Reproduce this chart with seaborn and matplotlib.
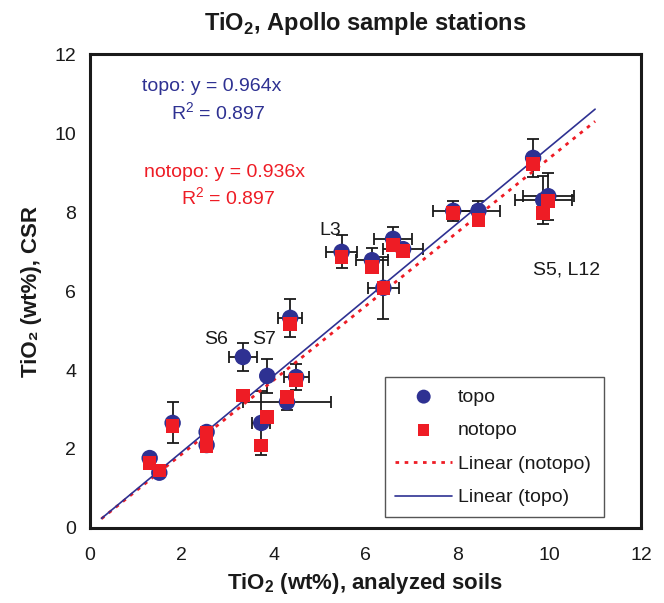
import matplotlib
matplotlib.use("Agg")
import matplotlib.pyplot as plt
import numpy as np
import pandas as pd
import seaborn as sns

# TiO2 (wt%) per Apollo station: analyzed soils vs. CSR estimates
soil_tio2 = [1.30, 1.51, 1.80, 2.54, 2.54, 3.33, 3.73, 3.86, 4.29, 4.36, 4.49,
             5.48, 6.14, 6.39, 6.60, 6.82, 7.91, 8.46, 9.65, 9.87, 9.98]
csr_topo = [1.77, 1.40, 2.66, 2.43, 2.10, 4.33, 2.66, 3.85, 3.19, 5.32, 3.82,
            6.99, 6.78, 6.08, 7.32, 7.06, 8.03, 8.03, 9.37, 8.30, 8.40]
csr_notopo = [1.64, 1.45, 2.58, 2.40, 2.07, 3.35, 2.09, 2.81, 3.31, 5.16, 3.75,
              6.86, 6.61, 6.08, 7.16, 7.01, 7.98, 7.80, 9.22, 7.97, 8.28]
soil_err = [0.0, 0.0, 0.0, 0.12, 0.12, 0.30, 0.20, 0.0, 0.95, 0.26, 0.27,
            0.33, 0.35, 0.34, 0.41, 0.43, 0.44, 0.47, 0.10, 0.62, 0.55]
csr_err = [0.0, 0.0, 0.52, 0.10, 0.10, 0.36, 0.80, 0.42, 0.20, 0.48, 0.32,
           0.42, 0.30, 0.78, 0.30, 0.10, 0.25, 0.25, 0.48, 0.60, 0.60]

# Linear fits through the origin
slope_topo = 0.964
slope_notopo = 0.936
r2_topo = 0.897
r2_notopo = 0.897
fit_range = [0.25, 11.0]

station_labels = ["L3", "S6", "S7", "S5, L12"]
label_x = [5.23, 2.75, 3.79, 10.37]
label_y = [7.54, 4.76, 4.76, 6.53]

sns.set_style("white")
plt.rcParams["font.family"] = ["Liberation Sans", "DejaVu Sans"]
plt.rcParams["mathtext.fontset"] = "custom"
plt.rcParams["mathtext.rm"] = "Liberation Sans"
plt.rcParams["mathtext.bf"] = "Liberation Sans:bold"

BLUE = "#2e3192"
RED = "#ee1c25"
INK = "#1a1a1a"

fig = plt.figure(figsize=(6.64, 6.03), dpi=100)
ax = fig.add_axes([0.1355, 0.1244, 0.8299, 0.786])

df = pd.DataFrame({"soil": soil_tio2, "topo": csr_topo, "notopo": csr_notopo})

ax.errorbar(soil_tio2, csr_topo, xerr=soil_err, yerr=csr_err, fmt="none",
            ecolor=INK, elinewidth=1.3, capsize=4, capthick=1.3, zorder=2)

fit_x = np.array(fit_range)
fits = pd.DataFrame({
    "x": np.concatenate([fit_x, fit_x]),
    "y": np.concatenate([slope_notopo * fit_x, slope_topo * fit_x]),
    "series": ["Linear (notopo)"] * 2 + ["Linear (topo)"] * 2,
})
sns.lineplot(data=fits[fits.series == "Linear (notopo)"], x="x", y="y", ax=ax,
             color=RED, linewidth=2.0, linestyle=(0, (1.3, 2.0)),
             label="Linear (notopo)", zorder=3)
sns.lineplot(data=fits[fits.series == "Linear (topo)"], x="x", y="y", ax=ax,
             color=BLUE, linewidth=1.2, label="Linear (topo)", zorder=3)

sns.scatterplot(data=df, x="soil", y="topo", ax=ax, marker="o", s=140,
                color=BLUE, edgecolor="none", label="topo", zorder=4)
sns.scatterplot(data=df, x="soil", y="notopo", ax=ax, marker="s", s=95,
                color=RED, edgecolor="none", label="notopo", zorder=5)

ax.set_xlim(0, 12)
ax.set_ylim(0, 12)
ax.set_xticks(np.arange(0, 13, 2))
ax.set_yticks(np.arange(0, 13, 2))
ax.tick_params(axis="both", direction="out", length=5, width=1.0,
               labelsize=14, color="black", labelcolor=INK, pad=5)
ax.tick_params(axis="x", pad=9)
for sp in ax.spines.values():
    sp.set_linewidth(2.2)
    sp.set_color(INK)

ax.set_title(r"TiO$_\mathbf{2}$, Apollo sample stations", fontsize=17,
             fontweight="bold", pad=17, color=INK)
ax.set_xlabel(r"TiO$_\mathbf{2}$ (wt%), analyzed soils", fontsize=16,
              fontweight="bold", labelpad=5, color=INK)
ax.set_ylabel("TiO\u2082 (wt%), CSR", fontsize=16, fontweight="bold",
              labelpad=9, color=INK)

ax.text(2.64, 11.19, f"topo: y = {slope_topo}x", color=BLUE, fontsize=14,
        ha="center", va="center")
ax.text(2.79, 10.50, f"R$^2$ = {r2_topo}", color=BLUE, fontsize=14,
        ha="center", va="center")
ax.text(2.94, 9.01, f"notopo: y = {slope_notopo}x", color=RED, fontsize=14,
        ha="center", va="center")
ax.text(3.00, 8.35, f"R$^2$ = {r2_notopo}", color=RED, fontsize=14,
        ha="center", va="center")

for t, lx, ly in zip(station_labels, label_x, label_y):
    ax.text(lx, ly, t, fontsize=14, ha="center", va="center", color=INK)

handles, labels = ax.get_legend_handles_labels()
order = [labels.index(k) for k in ["topo", "notopo", "Linear (notopo)", "Linear (topo)"]]
leg = ax.legend([handles[i] for i in order], [labels[i] for i in order],
                loc="lower left", bbox_to_anchor=(0.535, 0.023, 0.398, 0.306),
                mode="expand", fontsize=14, frameon=True, fancybox=False,
                edgecolor="#555555", framealpha=1, borderpad=0.55,
                labelspacing=0.82, handlelength=2.9, handletextpad=0.3,
                markerscale=0.85, borderaxespad=0)
leg.get_frame().set_linewidth(1.0)
for txt in leg.get_texts():
    txt.set_color(INK)

fig.savefig("out.png", dpi=100)
